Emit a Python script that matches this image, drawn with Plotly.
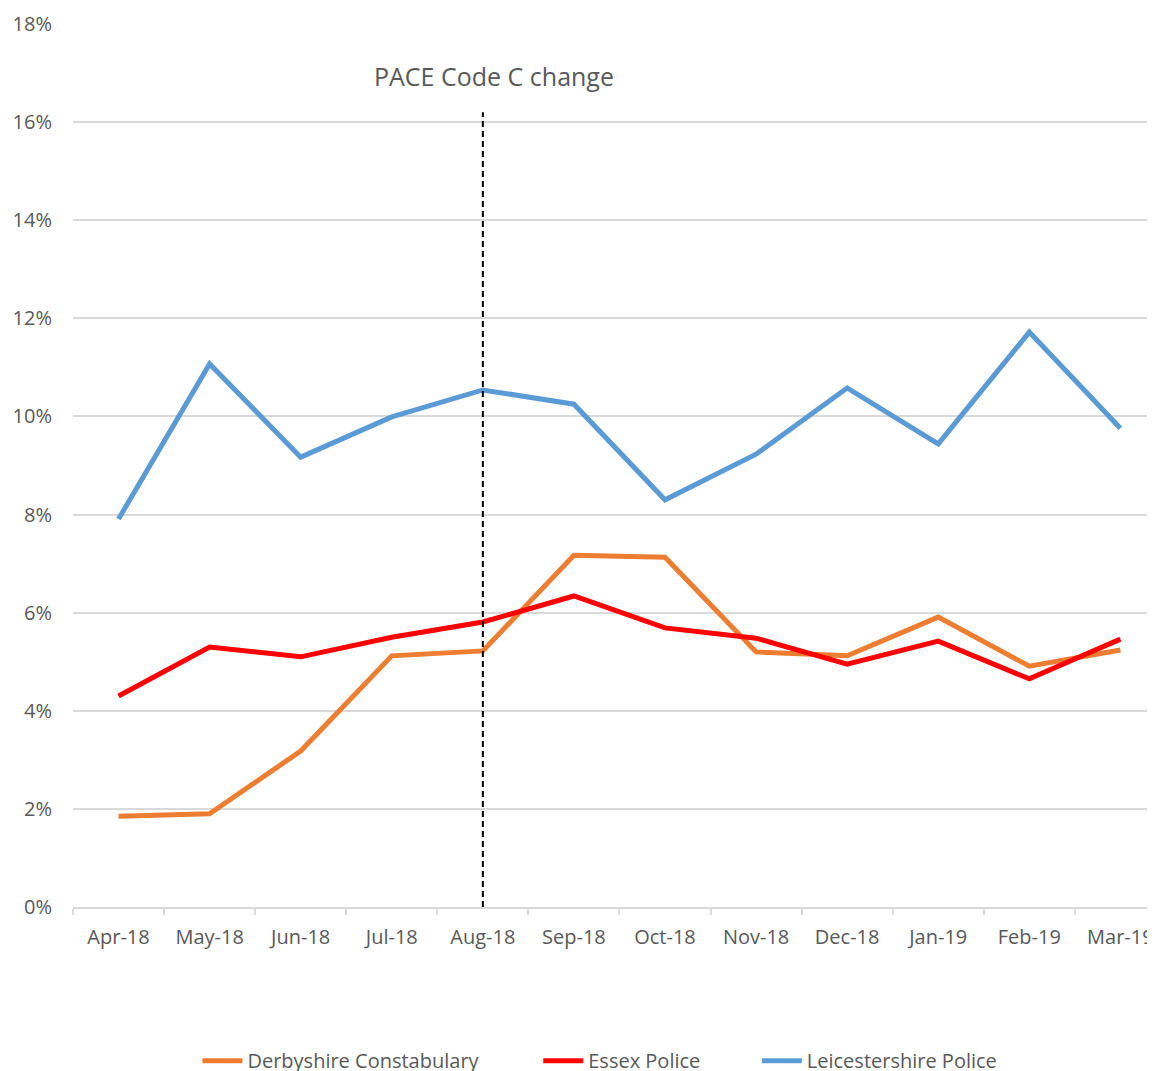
import plotly.graph_objects as go

months = ["Apr-18", "May-18", "Jun-18", "Jul-18", "Aug-18", "Sep-18",
          "Oct-18", "Nov-18", "Dec-18", "Jan-19", "Feb-19", "Mar-19"]
derbyshire = [1.85, 1.90, 3.18, 5.12, 5.22, 7.17, 7.13, 5.20, 5.12, 5.91, 4.91, 5.24]
essex = [4.30, 5.30, 5.10, 5.50, 5.81, 6.34, 5.69, 5.48, 4.95, 5.42, 4.65, 5.46]
leicestershire = [7.91, 11.07, 9.17, 9.99, 10.54, 10.25, 8.30, 9.23, 10.58, 9.44, 11.72, 9.76]

series_names = ["Derbyshire Constabulary", "Essex Police", "Leicestershire Police"]
series_colors = ["#ED7D31", "#FF0000", "#5B9BD5"]
legend_ids = ["legend", "legend2", "legend3"]
legend_x = [0.115, 0.43, 0.632]

change_month = "Aug-18"
change_label = "PACE Code C change"
change_top = 16.2

fig = go.Figure()
for name, vals, col, lg in zip(series_names, [derbyshire, essex, leicestershire],
                               series_colors, legend_ids):
    fig.add_trace(go.Scatter(x=months, y=vals, name=name, mode="lines",
                             line=dict(color=col, width=5), legend=lg))

idx = months.index(change_month)
fig.add_shape(type="line", xref="x", yref="y", x0=idx, x1=idx, y0=0, y1=change_top,
              line=dict(color="black", width=2, dash="6px,4px"))
fig.add_annotation(x=idx, y=16.95, xref="x", yref="y", text=change_label, showarrow=False,
                   xshift=11, font=dict(size=25, color="#595959"))

legend_common = dict(orientation="h", xanchor="left", y=-0.174, yanchor="middle",
                     font=dict(size=20, color="#595959"), itemwidth=40,
                     bgcolor="rgba(0,0,0,0)")

# page body has an 8px margin; compensate so the plot lands where the reference has it
fig.update_layout(
    width=1147, height=1063,
    margin=dict(l=65, r=0, t=16, b=164, autoexpand=False),
    plot_bgcolor="white", paper_bgcolor="white",
    font=dict(family="Open Sans", color="#595959", size=19),
    showlegend=True,
    legend=dict(x=legend_x[0], **legend_common),
    legend2=dict(x=legend_x[1], **legend_common),
    legend3=dict(x=legend_x[2], **legend_common),
)
fig.update_xaxes(type="category", range=[-0.5, 11.38], tickson="boundaries",
                 ticks="outside", ticklen=6, tickcolor="#d9d9d9", tickwidth=1.5,
                 showline=True, linecolor="#d9d9d9", linewidth=1.5, showgrid=False,
                 tickfont=dict(size=20, color="#595959"), ticklabelstandoff=11,
                 automargin=False)
fig.update_yaxes(range=[0, 18], dtick=2, ticksuffix="%", showgrid=True,
                 gridcolor="#d9d9d9", gridwidth=1.5, zeroline=False,
                 tickfont=dict(size=20, color="#595959"), ticklabelstandoff=20,
                 automargin=False)

fig.write_html("out.html")
